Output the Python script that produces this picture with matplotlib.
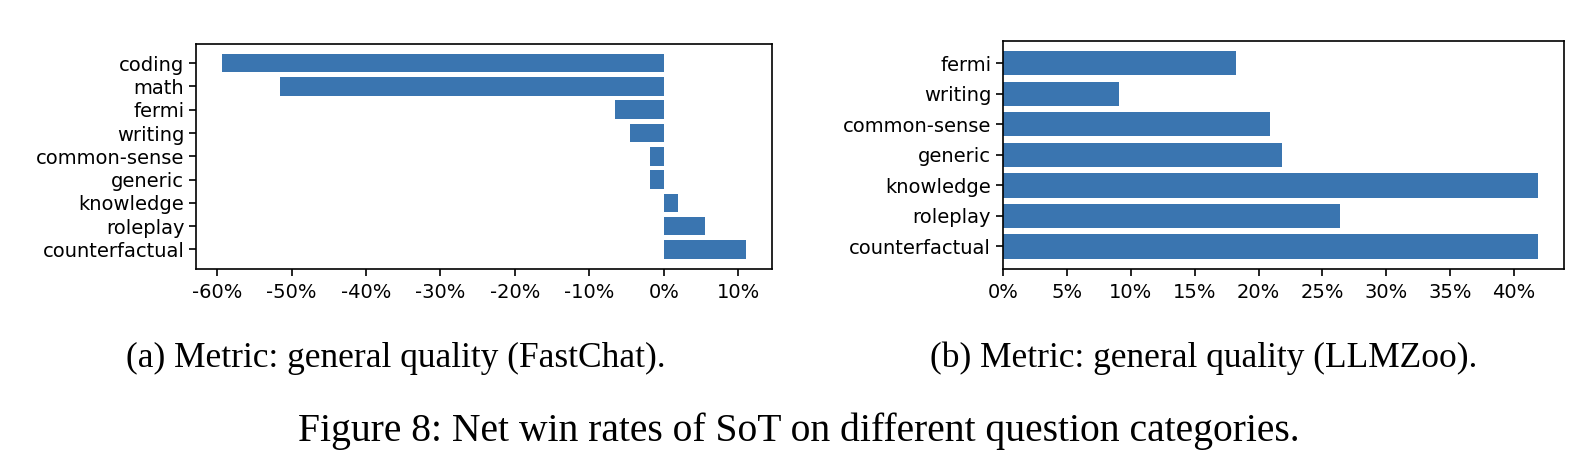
import matplotlib
matplotlib.use("Agg")
import matplotlib.pyplot as plt
from matplotlib.ticker import FuncFormatter

# (a) FastChat, net win rates in percent
cats_a = ['coding', 'math', 'fermi', 'writing', 'common-sense', 'generic',
          'knowledge', 'roleplay', 'counterfactual']
vals_a = [-59.3, -51.5, -6.5, -4.5, -1.9, -1.9, 1.9, 5.5, 11.0]

# (b) LLMZoo
cats_b = ['fermi', 'writing', 'common-sense', 'generic', 'knowledge',
          'roleplay', 'counterfactual']
vals_b = [18.2, 9.1, 20.9, 21.8, 41.85, 26.4, 41.85]

ticks_a = [-60, -50, -40, -30, -20, -10, 0, 10]
ticks_b = [0, 5, 10, 15, 20, 25, 30, 35, 40]

color = '#3a75b0'
pct = FuncFormatter(lambda v, p: '%d%%' % v)

fig = plt.figure(figsize=(15.92, 4.54), dpi=100)
ax1 = fig.add_axes([0.1232, 0.4075, 0.3616, 0.4965])
ax2 = fig.add_axes([0.6300, 0.4075, 0.3527, 0.5030])

for ax, cats, vals, ticks in [(ax1, cats_a, vals_a, ticks_a),
                              (ax2, cats_b, vals_b, ticks_b)]:
    ax.barh(cats, vals, color=color)
    ax.invert_yaxis()
    ax.set_xticks(ticks)
    ax.xaxis.set_major_formatter(pct)
    ax.tick_params(labelsize=14, width=1.2, length=5)
    ax.tick_params(axis='x', pad=5)
    for s in ax.spines.values():
        s.set_linewidth(1.2)

serif = ['Liberation Serif', 'DejaVu Serif']
fig.text(0.2484, 0.211, '(a) Metric: general quality (FastChat).',
         ha='center', va='center', fontsize=25.5, family=serif)
fig.text(0.7563, 0.211, '(b) Metric: general quality (LLMZoo).',
         ha='center', va='center', fontsize=25.5, family=serif)
fig.text(0.502, 0.050, 'Figure 8: Net win rates of SoT on different question categories.',
         ha='center', va='center', fontsize=28.5, family=serif)

fig.savefig('out.png', dpi=100)
